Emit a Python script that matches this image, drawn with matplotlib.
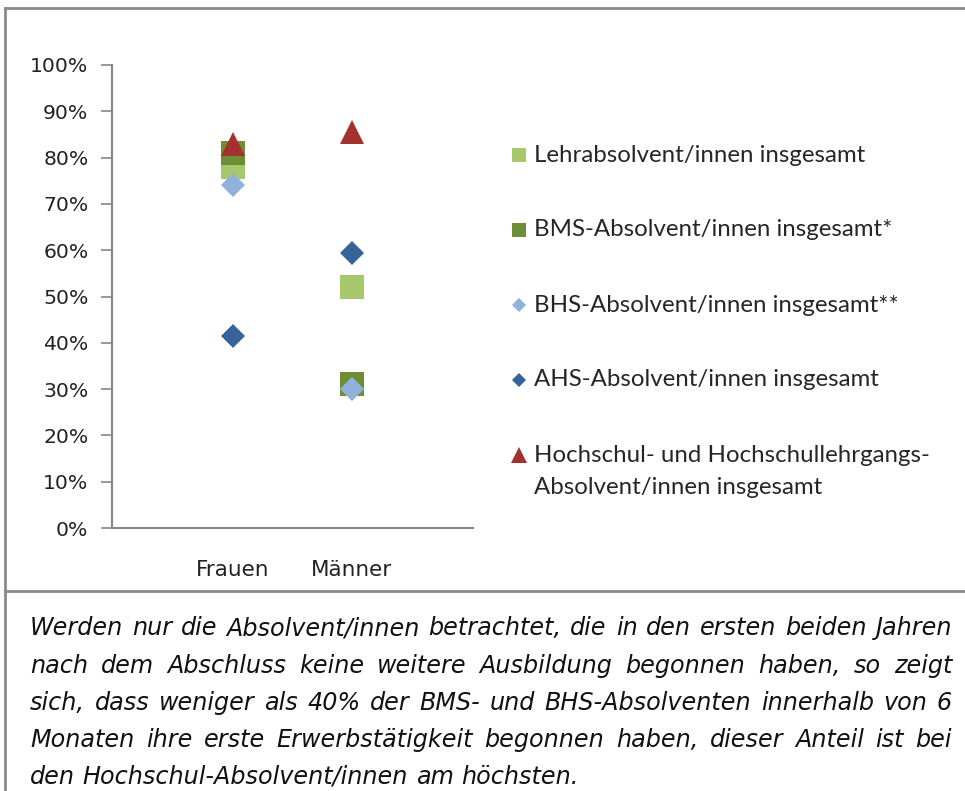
import matplotlib.pyplot as plt
from matplotlib.lines import Line2D
from matplotlib.ticker import PercentFormatter

# Daten (Anteil in %)
kategorien = ['Frauen', 'Männer']
lehr = [78, 52]
bms = [81, 31]
bhs = [74, 30]
ahs = [41.5, 59.5]
hochschul = [83, 85.5]

serien_namen = ['Lehrabsolvent/innen insgesamt',
                'BMS-Absolvent/innen insgesamt*',
                'BHS-Absolvent/innen insgesamt**',
                'AHS-Absolvent/innen insgesamt',
                'Hochschul- und Hochschullehrgangs-\nAbsolvent/innen insgesamt']

absatz = ['Werden nur die Absolvent/innen betrachtet, die in den ersten beiden Jahren',
          'nach dem Abschluss keine weitere Ausbildung begonnen haben, so zeigt',
          'sich, dass weniger als 40% der BMS- und BHS-Absolventen innerhalb von 6',
          'Monaten ihre erste Erwerbstätigkeit begonnen haben, dieser Anteil ist bei',
          'den Hochschul-Absolvent/innen am höchsten.']

farben = ['#a6c86a', '#6e8e35', '#8fb1dc', '#356498', '#a3312e']
marker = ['s', 's', 'D', 'D', '^']
groesse = [17, 17, 12.5, 12.5, 17]
leg_groesse = [10.5, 10.5, 7.5, 7.5, 11]

W, H = 965, 791
fig = plt.figure(figsize=(W / 100, H / 100), dpi=100)

def fx(px):
    return px / W

def fy(py):
    return 1 - py / H

ax = fig.add_axes([fx(112), fy(528), fx(473) - fx(112), fy(65) - fy(528)])
werte = [lehr, bms, bhs, ahs, hochschul]
x = list(range(len(kategorien)))
for w, f, m, s in zip(werte, farben, marker, groesse):
    ax.plot(x, w, linestyle='none', marker=m, markersize=s, color=f,
            markeredgewidth=0, clip_on=False)

ax.set_xlim(-1.02, 2.02)
ax.set_ylim(0, 100)
ax.set_yticks(range(0, 101, 10))
ax.yaxis.set_major_formatter(PercentFormatter(decimals=0))
ax.set_xticks(x)
ax.set_xticklabels(kategorien)
ax.tick_params(axis='y', length=8, width=1.2, color='#868686', labelsize=14.7,
               labelcolor='#222222', pad=9)
ax.tick_params(axis='x', length=0, labelsize=15.5, labelcolor='#222222', pad=23)
for sp in ['top', 'right']:
    ax.spines[sp].set_visible(False)
for sp in ['left', 'bottom']:
    ax.spines[sp].set_color('#868686')
    ax.spines[sp].set_linewidth(1.5)

# Legende
leg_y = [155, 230, 305, 380, 455]
for name, f, m, s, yy in zip(serien_namen, farben, marker, leg_groesse, leg_y):
    fig.add_artist(Line2D([fx(519)], [fy(yy)], marker=m, markersize=s, color=f,
                          markeredgewidth=0, linestyle='none', transform=fig.transFigure))
    for k, teil in enumerate(name.split('\n')):
        fig.text(fx(534), fy(yy + 33 * k), teil, fontsize=17.3, family='Lato',
                 color='#262626', va='center', transform=fig.transFigure)

# Rahmen
rahmen = '#8a8a8a'
fig.add_artist(Line2D([fx(5), fx(5)], [fy(8), 0], color=rahmen, lw=2))
fig.add_artist(Line2D([fx(5), 1], [fy(8), fy(8)], color=rahmen, lw=2))
fig.add_artist(Line2D([fx(5), 1], [fy(591), fy(591)], color=rahmen, lw=2))

# Absatz im Blocksatz
fig.canvas.draw()
r = fig.canvas.get_renderer()
links, rechts = 30, 952
zeilen_y = [628, 666, 703, 740, 777]
fs = 17.2
for i, (zeile, yy) in enumerate(zip(absatz, zeilen_y)):
    woerter = zeile.split(' ')
    texte = [fig.text(0, fy(yy), wort, fontsize=fs, style='italic', color='#111111',
                      va='center') for wort in woerter]
    breiten = [t.get_window_extent(r).width for t in texte]
    if i < len(absatz) - 1:
        luecke = (rechts - links - sum(breiten)) / (len(woerter) - 1)
    else:
        luecke = fs * 0.318 * 100 / 72
    pos = links
    for t, b in zip(texte, breiten):
        t.set_x(fx(pos))
        pos += b + luecke

fig.savefig('out.png', dpi=100)
